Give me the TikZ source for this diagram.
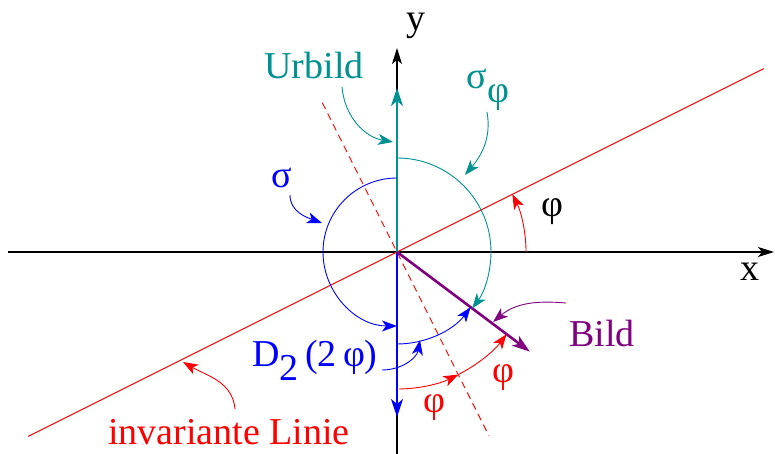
\documentclass[tikz,border=0pt]{standalone}
\usepackage{fontspec}
\setmainfont{Liberation Serif}
\usetikzlibrary{arrows.meta}
\definecolor{tealc}{RGB}{0,145,145}
\definecolor{purp}{RGB}{128,0,128}
\begin{document}
\begin{tikzpicture}[x=1pt,y=1pt,font=\fontsize{38}{40}\selectfont,
  thinline/.style={line width=0.9pt},
  ann/.style={line width=0.9pt,-{Stealth[length=15pt,width=11pt,inset=4pt]}},
  thickarr/.style={line width=2.6pt,-{Stealth[length=18pt,width=12pt,inset=5pt]}},
  lbl/.style={inner sep=0pt}]
\useasboundingbox (-397,-202) rectangle (378,252);
% origin
\coordinate (O) at (0,0);
% axes
\coordinate (xl) at (-389,0);
\coordinate (xr) at (377,0);
\coordinate (yb) at (0,-202);
\coordinate (yt) at (0,204);
\draw[line width=1.2pt,-{Stealth[length=16pt,width=10pt,inset=4pt]}] (xl) -- (xr);
\draw[line width=1.2pt,-{Stealth[length=16pt,width=10pt,inset=4pt]}] (yb) -- (yt);
\node[lbl] (ylab) at (19,226) {y};
\node[lbl] (xlab) at (353,-20) {x};
% invariant line and dashed perpendicular
\coordinate (il1) at (-369,-184.5);
\coordinate (il2) at (366.8,183.4);
\draw[red,thinline] (il1) -- (il2);
\coordinate (d1) at (-74.7,149.3);
\coordinate (d2) at (92,-184);
\draw[red,thinline,dash pattern=on 7pt off 5pt] (d1) -- (d2);
% vectors
\coordinate (ur) at (0,164);
\coordinate (bl) at (0,-165);
\coordinate (bi) at (132.8,-99.6);
\draw[tealc,thickarr] (O) -- (ur);
\draw[blue,thickarr] (O) -- (bl);
\draw[purp,thickarr] (O) -- (bi);
% arcs
\draw[tealc,ann] (0,94) arc[start angle=90,end angle=-36.87,radius=94];
\draw[blue,ann] (0,74) arc[start angle=90,end angle=270,radius=74];
\draw[blue,ann] (0,-92) arc[start angle=270,end angle=323.13,radius=92];
\draw[red,ann] (129,0) arc[start angle=0,end angle=26.57,radius=129];
\draw[red,ann] (2,-137) arc[start angle=270.8,end angle=296.57,radius=137];
\draw[red,ann] (296.57:137) arc[start angle=296.57,end angle=323.13,radius=137];
% labels
\node[lbl,text=black] (phib) at (155,40) {φ};
\node[lbl,text=red] (phi1) at (37,-156) {φ};
\node[lbl,text=red] (phi2) at (106,-126) {φ};
\node[lbl,text=tealc] (urb) at (-83,186) {Urbild};
\node[lbl,text=tealc] (sphi) at (91,162) {σ\raisebox{-0.8ex}{φ}};
\node[lbl,text=blue] (sig) at (-115,74) {σ};
\node[lbl,text=purp] (bild) at (205,-82) {Bild};
\node[lbl,text=blue] (dtwo) at (-82,-108) {D\raisebox{-0.8ex}{2}\,(2\,φ)};
\node[lbl,text=red] (inv) at (-168,-180) {invariante Linie};
% annotation arrows
\coordinate (a1s) at (-55,165); \coordinate (a1e) at (-4,110);
\draw[tealc,ann] (a1s) to[out=-85,in=170] (a1e);
\coordinate (a2s) at (90,140); \coordinate (a2e) at (68,77);
\draw[tealc,ann] (a2s) to[out=-80,in=50] (a2e);
\coordinate (a3s) at (-107,57); \coordinate (a3e) at (-75,29);
\draw[blue,ann] (a3s) to[out=-90,in=160] (a3e);
\coordinate (a4s) at (169,-51); \coordinate (a4e) at (96,-70);
\draw[purp,ann] (a4s) to[out=175,in=40] (a4e);
\coordinate (a5s) at (-15,-118); \coordinate (a5e) at (23,-88);
\draw[blue,ann] (a5s) to[out=0,in=-100] (a5e);
\coordinate (a6s) at (-162,-157); \coordinate (a6e) at (-214,-110);
\draw[red,ann] (a6s) to[out=95,in=-30] (a6e);
\end{tikzpicture}
\end{document}
